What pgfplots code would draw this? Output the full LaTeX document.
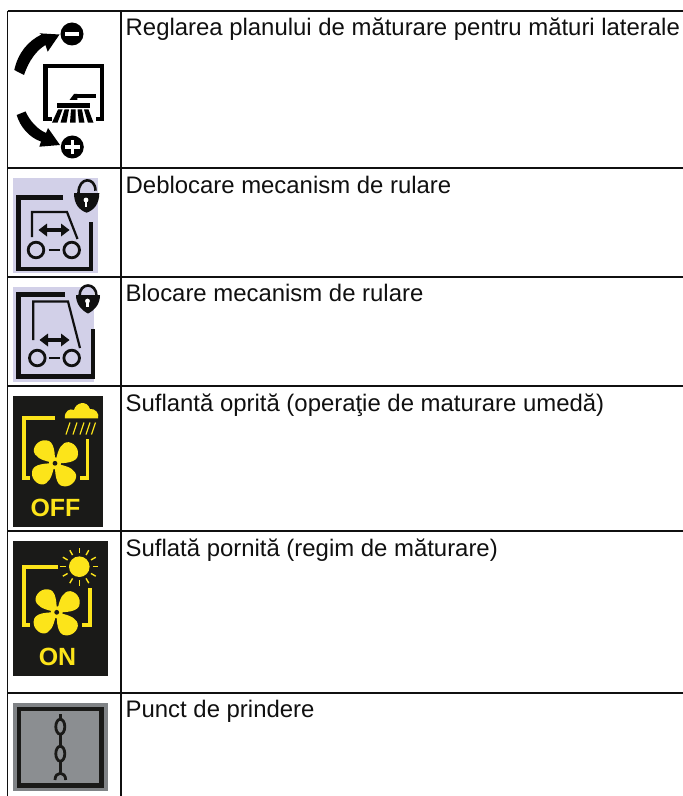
\documentclass[border=0pt]{standalone}
\usepackage{fontspec}
\setmainfont{Liberation Sans}
\usepackage{pgfplots}
\pgfplotsset{compat=1.18}
\definecolor{lav}{HTML}{D2D0E8}
\definecolor{yel}{HTML}{FCE41A}
\definecolor{dk}{HTML}{1A1A18}
\definecolor{gout}{HTML}{808386}
\definecolor{gin}{HTML}{8B8E91}
\definecolor{ink}{HTML}{101010}
\newcommand{\rowtext}[2]{\node[anchor=base west,inner sep=0pt,text=ink,font=\fontsize{24}{26}\selectfont] at (axis cs:125.5,#1) {#2};}
\newcommand{\fan}[2]{%
 \fill[yel] (axis cs:#1,#2) .. controls (axis cs:#1,#2-8) and (axis cs:#1,#2-23) .. (axis cs:#1-9,#2-23) .. controls (axis cs:#1-17,#2-24) and (axis cs:#1-24,#2-15) .. (axis cs:#1-20,#2-9) .. controls (axis cs:#1-16,#2-3) and (axis cs:#1-7,#2-2) .. cycle;
 \fill[yel] (axis cs:#1,#2) .. controls (axis cs:#1+8,#2) and (axis cs:#1+23,#2) .. (axis cs:#1+23,#2-9) .. controls (axis cs:#1+24,#2-17) and (axis cs:#1+15,#2-24) .. (axis cs:#1+9,#2-20) .. controls (axis cs:#1+3,#2-16) and (axis cs:#1+2,#2-7) .. cycle;
 \fill[yel] (axis cs:#1,#2) .. controls (axis cs:#1,#2+8) and (axis cs:#1,#2+23) .. (axis cs:#1+9,#2+23) .. controls (axis cs:#1+17,#2+24) and (axis cs:#1+24,#2+15) .. (axis cs:#1+20,#2+9) .. controls (axis cs:#1+16,#2+3) and (axis cs:#1+7,#2+2) .. cycle;
 \fill[yel] (axis cs:#1,#2) .. controls (axis cs:#1-8,#2) and (axis cs:#1-23,#2) .. (axis cs:#1-23,#2+9) .. controls (axis cs:#1-24,#2+17) and (axis cs:#1-15,#2+24) .. (axis cs:#1-9,#2+20) .. controls (axis cs:#1-3,#2+16) and (axis cs:#1-2,#2+7) .. cycle;
 \fill[yel] (axis cs:#1,#2) circle[radius=6];
 \fill[dk] (axis cs:#1,#2) circle[radius=2.4];
}
\begin{document}
\begin{tikzpicture}
\begin{axis}[scale only axis,width=683bp,height=796bp,xmin=0,xmax=683,ymin=0,ymax=796,y dir=reverse,axis lines=none,ticks=none,clip=true]
\fill[white] (axis cs:0,0) rectangle (axis cs:683,796);
% table rules
\addplot[ink,line width=1.3bp] coordinates {(7.7,11)(683,11)};
\addplot[ink,line width=1.3bp] coordinates {(7.7,168)(683,168)};
\addplot[ink,line width=1.3bp] coordinates {(7.7,277)(683,277)};
\addplot[ink,line width=1.3bp] coordinates {(7.7,386)(683,386)};
\addplot[ink,line width=1.3bp] coordinates {(7.7,531)(683,531)};
\addplot[ink,line width=1.3bp] coordinates {(7.7,693)(683,693)};
\addplot[ink,line width=1.3bp] coordinates {(7.7,11)(7.7,796)};
\addplot[ink,line width=1.3bp] coordinates {(121,11)(121,796)};
% texts
\rowtext{35.3}{Reglarea planului de măturare pentru mături laterale}
\rowtext{193.5}{Deblocare mecanism de rulare}
\rowtext{301.5}{Blocare mecanism de rulare}
\rowtext{411}{Suflantă oprită (operaţie de maturare umedă)}
\rowtext{556.3}{Suflată pornită (regim de măturare)}
\rowtext{717}{Punct de prindere}
% ---- icon 1
\fill[black] (axis cs:72,34) circle[radius=11.5];
\fill[white] (axis cs:65,31.7) rectangle (axis cs:79.3,36);
\fill[black] (axis cs:72.3,147) circle[radius=11.5];
\fill[white] (axis cs:65,145.2) rectangle (axis cs:79.6,148.8);
\fill[white] (axis cs:70.5,139.7) rectangle (axis cs:74.1,154.3);
\fill[black] (axis cs:14.3,70) .. controls (axis cs:18,53) and (axis cs:28,41) .. (axis cs:41.5,34.5) -- (axis cs:39.3,33.3) -- (axis cs:59.5,34.5) -- (axis cs:47.7,51.7) -- (axis cs:45.5,45) .. controls (axis cs:37,50) and (axis cs:29,60) .. (axis cs:24,75) -- cycle;
\fill[black] (axis cs:16.7,115) .. controls (axis cs:20,127) and (axis cs:30,138) .. (axis cs:41,141.5) -- (axis cs:39.3,146.7) -- (axis cs:60,145) -- (axis cs:48,128) -- (axis cs:46,133) .. controls (axis cs:37,129) and (axis cs:30,121) .. (axis cs:25.5,111.5) -- cycle;
\draw[black,line width=4.4bp,miter limit=4] (axis cs:52,119) -- (axis cs:45.6,119) -- (axis cs:45.6,66) -- (axis cs:102,66) -- (axis cs:102,119) -- (axis cs:96,119);
\fill[black] (axis cs:77.3,94) rectangle (axis cs:96,98.3);
\fill[black] (axis cs:69.5,100) -- (axis cs:74,94) -- (axis cs:77.3,94) -- (axis cs:77.3,100) -- cycle;
\fill[black] (axis cs:56.7,102.7) rectangle (axis cs:90,108.3);
\fill[black] (axis cs:58,109.5) -- (axis cs:62.5,109.5) -- (axis cs:57.5,122.7) -- (axis cs:52,122.7) -- cycle;
\fill[black] (axis cs:64.5,109.5) -- (axis cs:69,109.5) -- (axis cs:66.5,122.7) -- (axis cs:60.5,122.7) -- cycle;
\fill[black] (axis cs:71,109.5) -- (axis cs:75.5,109.5) -- (axis cs:75.7,122.7) -- (axis cs:70,122.7) -- cycle;
\fill[black] (axis cs:77.5,109.5) -- (axis cs:82,109.5) -- (axis cs:84.5,122.7) -- (axis cs:79,122.7) -- cycle;
\fill[black] (axis cs:84,109.5) -- (axis cs:88.5,109.5) -- (axis cs:93.5,122.7) -- (axis cs:88,122.7) -- cycle;
% ---- icon 2
\fill[lav] (axis cs:12.7,178) rectangle (axis cs:97.7,272.7);
\draw[ink,line width=4.4bp] (axis cs:63,197.5) -- (axis cs:18.5,197.5) -- (axis cs:18.5,269) -- (axis cs:91,269) -- (axis cs:91,222);
\draw[ink,line width=2.2bp] (axis cs:32,237) -- (axis cs:32,212) -- (axis cs:67,212) -- (axis cs:77.5,239);
\draw[ink,line width=2.8bp] (axis cs:36,250) circle[radius=7.8];
\draw[ink,line width=2.8bp] (axis cs:71.7,250) circle[radius=7.8];
\draw[ink,line width=2.8bp] (axis cs:48.5,250) -- (axis cs:59.5,250);
\draw[ink,line width=3.2bp] (axis cs:44,230) -- (axis cs:64,230);
\fill[ink] (axis cs:38.5,230) -- (axis cs:47,223.5) -- (axis cs:47,236.5) -- cycle;
\fill[ink] (axis cs:69.5,230) -- (axis cs:61,223.5) -- (axis cs:61,236.5) -- cycle;
\fill[ink] (axis cs:74,193) -- (axis cs:99.3,193) .. controls (axis cs:99.3,204) and (axis cs:94,210) .. (axis cs:86.7,212.7) .. controls (axis cs:79,210) and (axis cs:74,204) .. cycle;
\draw[ink,line width=2.6bp] (axis cs:78.5,193) .. controls (axis cs:78.5,176.5) and (axis cs:95.5,176.5) .. (axis cs:95.5,190.7);
\fill[white] (axis cs:86,200) circle[radius=2.4];
\fill[white] (axis cs:84.9,200) rectangle (axis cs:87.1,206.5);
% ---- icon 3
\fill[lav] (axis cs:12.7,286.7) rectangle (axis cs:93.5,381.7);
\draw[ink,line width=4.4bp] (axis cs:65,294.5) -- (axis cs:18.5,294.5) -- (axis cs:18.5,376.5) -- (axis cs:93,376.5) -- (axis cs:93,329);
\draw[ink,line width=2.2bp] (axis cs:33.3,340) -- (axis cs:33.3,301.5) -- (axis cs:68,301.5) -- (axis cs:80,348);
\draw[ink,line width=2.8bp] (axis cs:37.3,358) circle[radius=7.8];
\draw[ink,line width=2.8bp] (axis cs:71.7,358) circle[radius=7.8];
\draw[ink,line width=2.8bp] (axis cs:49,358) -- (axis cs:60,358);
\draw[ink,line width=3.2bp] (axis cs:45,340) -- (axis cs:64,340);
\fill[ink] (axis cs:39.5,340) -- (axis cs:48,333.5) -- (axis cs:48,346.5) -- cycle;
\fill[ink] (axis cs:69.5,340) -- (axis cs:61,333.5) -- (axis cs:61,346.5) -- cycle;
\fill[ink] (axis cs:76,295) -- (axis cs:100,295) .. controls (axis cs:100,304) and (axis cs:95,310) .. (axis cs:88,313.5) .. controls (axis cs:81,310) and (axis cs:76,304) .. cycle;
\draw[ink,line width=2.6bp] (axis cs:79.5,296) .. controls (axis cs:79.5,282) and (axis cs:96.5,282) .. (axis cs:96.5,296);
\fill[white] (axis cs:87.5,301) circle[radius=2.4];
\fill[white] (axis cs:86.4,301) rectangle (axis cs:88.6,307);
% ---- icon 4
\fill[dk] (axis cs:12.7,396) rectangle (axis cs:102.7,526.7);
\draw[yel,line width=3.6bp] (axis cs:55,417.7) -- (axis cs:24,417.7) -- (axis cs:24,478) -- (axis cs:30,478);
\draw[yel,line width=3.6bp] (axis cs:87.5,439) -- (axis cs:87.5,478) -- (axis cs:80,478);
\fan{55}{463.3}
\fill[yel] (axis cs:65,418.3) .. controls (axis cs:64,411) and (axis cs:70,408) .. (axis cs:74,410) .. controls (axis cs:76,402) and (axis cs:87,400) .. (axis cs:90,409) .. controls (axis cs:95,408) and (axis cs:100,414) .. (axis cs:98,418.3) -- cycle;
\draw[yel,line width=1.2bp] (axis cs:70,422.5) -- (axis cs:66,434.5);
\draw[yel,line width=1.2bp] (axis cs:77,422.5) -- (axis cs:73,434.5);
\draw[yel,line width=1.2bp] (axis cs:84,422.5) -- (axis cs:80,434.5);
\draw[yel,line width=1.2bp] (axis cs:90,422.5) -- (axis cs:86,434.5);
\draw[yel,line width=1.2bp] (axis cs:95.5,422.5) -- (axis cs:91.5,434.5);
\node[anchor=base,inner sep=0pt,text=yel,font=\fontsize{25}{28}\selectfont\bfseries] at (axis cs:55.5,516.5) {OFF};
% ---- icon 5
\fill[dk] (axis cs:12.7,541) rectangle (axis cs:107.7,676);
\draw[yel,line width=3.6bp] (axis cs:58,567) -- (axis cs:24,567) -- (axis cs:24,625) -- (axis cs:30,625);
\draw[yel,line width=3.6bp] (axis cs:90,588) -- (axis cs:90,625) -- (axis cs:82,625);
\fan{56.7}{612.3}
\fill[yel] (axis cs:79.3,566.7) circle[radius=10.3];
\pgfplotsinvokeforeach{0,30,...,330}{%
 \draw[yel,line width=1.4bp] (axis cs:{79.3+13.5*cos(#1)},{566.7+13.5*sin(#1)}) -- (axis cs:{79.3+19*cos(#1)},{566.7+19*sin(#1)});
}
\node[anchor=base,inner sep=0pt,text=yel,font=\fontsize{25}{28}\selectfont\bfseries] at (axis cs:57.5,665) {ON};
% ---- icon 6
\fill[gout] (axis cs:12.7,703.3) rectangle (axis cs:107.7,791);
\fill[gin] (axis cs:19,709) rectangle (axis cs:101.7,785.5);
\draw[dk,line width=4.8bp] (axis cs:19,709) rectangle (axis cs:101.7,785.5);
\draw[dk,line width=2.8bp] (axis cs:60.3,726.7) ellipse[x radius=4.5,y radius=7.5];
\draw[dk,line width=2.8bp] (axis cs:60.3,753.7) ellipse[x radius=4.5,y radius=7.5];
\draw[dk,line width=2.8bp] (axis cs:60.3,714) -- (axis cs:60.3,719);
\draw[dk,line width=2.8bp] (axis cs:60.3,734) -- (axis cs:60.3,746);
\draw[dk,line width=2.8bp] (axis cs:60.3,761) -- (axis cs:60.3,772);
\draw[dk,line width=2.8bp] (axis cs:55,780) .. controls (axis cs:55,771) and (axis cs:65.7,771) .. (axis cs:65.7,780);
\end{axis}
\end{tikzpicture}
\end{document}
